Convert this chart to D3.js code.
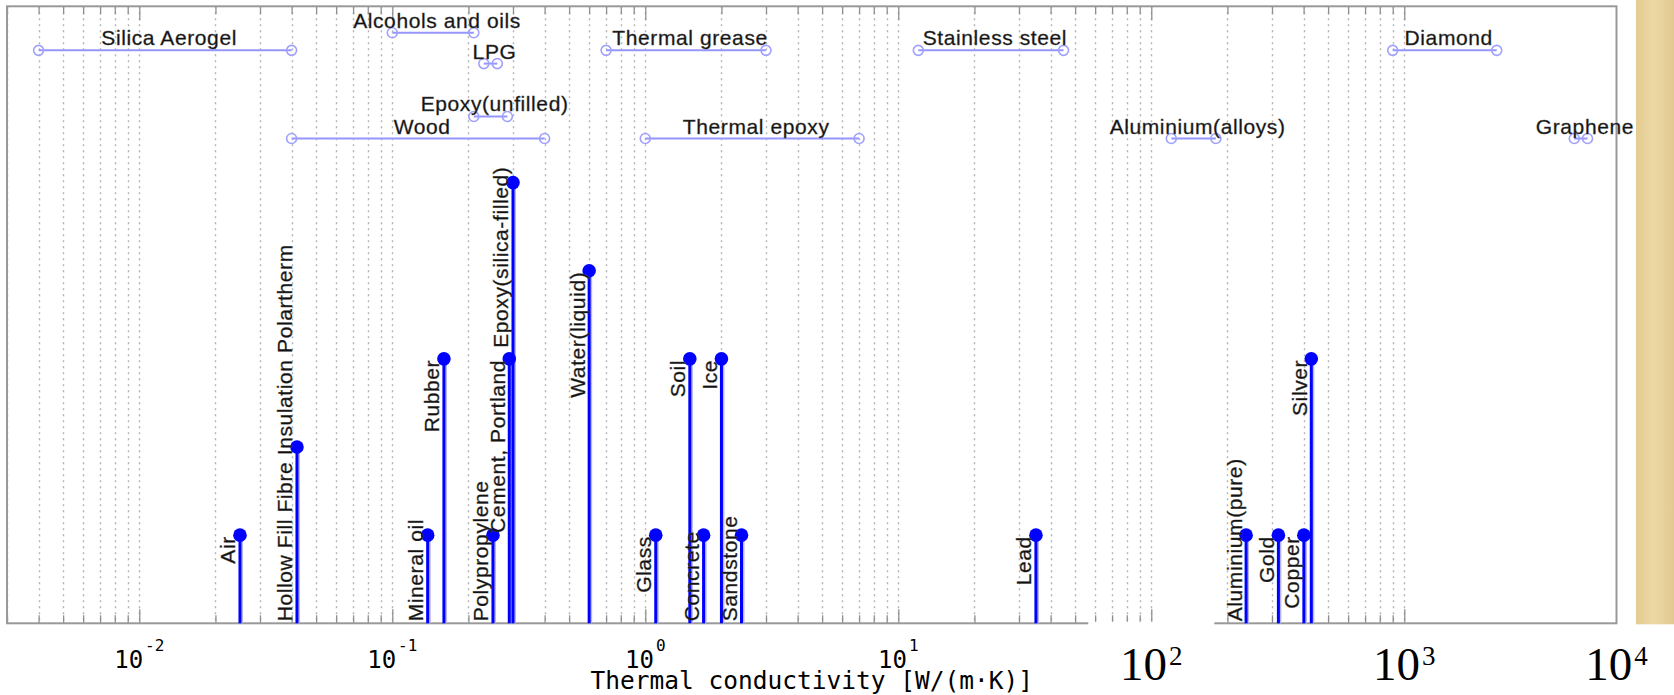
<!DOCTYPE html>
<html>
<head>
<meta charset="utf-8">
<script src="https://cdn.jsdelivr.net/npm/d3@7"></script>
<style>
    body { margin: 0; background: #fff; }
    svg { display: block; }
</style>
</head>
<body>
<svg class="svg-tc"></svg>
<script>
// materials drawn as stems (single value, W/(m.K))
var stemNames = ["Air", "Hollow Fill Fibre Insulation Polartherm", "Mineral oil", "Rubber", "Polypropylene",
    "Cement, Portland", "Epoxy(silica-filled)", "Water(liquid)", "Glass", "Soil", "Concrete", "Ice", "Sandstone",
    "Lead", "Aluminium(pure)", "Gold", "Copper", "Silver"]
var stemValues = [0.025, 0.042, 0.138, 0.16, 0.25, 0.29, 0.30, 0.6, 1.1, 1.5, 1.7, 2, 2.4, 35, 237, 318, 401, 429]
var stemLevels = [1, 2, 1, 3, 1, 3, 5, 4, 1, 3, 1, 3, 1, 1, 1, 1, 1, 3]

// materials drawn as ranges
var rangeNames = ["Silica Aerogel", "Alcohols and oils", "LPG", "Epoxy(unfilled)", "Wood", "Thermal grease",
    "Thermal epoxy", "Stainless steel", "Aluminium(alloys)", "Diamond", "Graphene"]
var rangeLow = [0.004, 0.1, 0.23, 0.21, 0.04, 0.7, 1, 12, 120, 900, 4700]
var rangeHigh = [0.04, 0.21, 0.26, 0.285, 0.4, 3, 7, 45, 180, 2320, 5300]
var rangeRows = [6.5, 6.7, 6.35, 5.75, 5.5, 6.5, 5.5, 6.5, 5.5, 6.5, 5.5]

// tick labels
var tickValues = [1e-2, 1e-1, 1, 10]
var tickExponents = ["-2", "-1", "0", "1"]
var bigTickValues = [1e2, 1e3, 1e4]
var bigTickExponents = ["2", "3", "4"]

var width = 1674
var height = 695

var svg = d3.select('.svg-tc')
    .attr('width', width)
    .attr('height', height)

var x_scale = d3.scaleLog()
    .domain([0.003, 6900])
    .range([7, 1616.5])

var y_scale = d3.scaleLinear()
    .domain([0, 7])
    .range([623.3, 6.3])

var x0 = x_scale.range()[0], x1 = x_scale.range()[1]
var yBase = y_scale(0), yTop = y_scale(7)

var labelFont = function (sel) {
    sel.style('font-family', '"Liberation Sans", Arial, sans-serif')
        .style('font-size', '21px')
        .style('letter-spacing', '0.6px')
        .style('fill', '#111')
        .style('stroke', '#444')
        .style('stroke-width', 0.35)
}

// parchment strip at the right
var defs = svg.append('defs')
var grad = defs.append('linearGradient').attr('id', 'paper')
grad.append('stop').attr('offset', '0%').attr('stop-color', '#e4cb90')
grad.append('stop').attr('offset', '45%').attr('stop-color', '#ecd8a6')
grad.append('stop').attr('offset', '100%').attr('stop-color', '#e3c98f')
svg.append('rect')
    .attr('x', 1636).attr('y', 0)
    .attr('width', width - 1636).attr('height', yBase + 1)
    .attr('fill', 'url(#paper)')

// grid (every 1..9 x 10^n up to 10^3)
var gridValues = x_scale.ticks().filter(v => v <= 1000)
var majorValues = gridValues.filter(v => Math.abs(Math.log10(v) - Math.round(Math.log10(v))) < 1e-9)
var minorValues = gridValues.filter(v => majorValues.indexOf(v) < 0)

svg.append('g')
    .selectAll('line')
    .data(gridValues)
    .enter()
    .append('line')
    .attr('x1', d => Math.round(x_scale(d)) + 0.5)
    .attr('x2', d => Math.round(x_scale(d)) + 0.5)
    .attr('y1', yTop)
    .attr('y2', yBase)
    .style('stroke', '#b3b3b3')
    .style('stroke-width', 1.4)
    .style('stroke-dasharray', '2,4')

// tick marks, bottom (pointing up) and top (pointing down)
var tickLen = { major: 14, minor: 8 }
var drawTicks = function (vals, len) {
    var gb = svg.append('g').attr('transform', 'translate(0,' + yBase + ')')
        .call(d3.axisBottom(x_scale).tickValues(vals).tickSize(-len).tickFormat(''))
    var gt = svg.append('g').attr('transform', 'translate(0,' + yTop + ')')
        .call(d3.axisTop(x_scale).tickValues(vals).tickSize(-len).tickFormat(''))
    ;[gb, gt].forEach(g => {
        g.select('.domain').remove()
        g.selectAll('line').style('stroke', '#8f8f8f').style('stroke-width', 1.3)
    })
}
drawTicks(minorValues, tickLen.minor)
drawTicks(majorValues, tickLen.major)

// axes box
svg.append('rect')
    .attr('x', x0).attr('y', yTop)
    .attr('width', x1 - x0).attr('height', yBase - yTop)
    .attr('fill', 'none')
    .style('stroke', '#999')
    .style('stroke-width', 2)

// range materials
var rg = svg.append('g')
rg.selectAll('line')
    .data(rangeNames)
    .enter()
    .append('line')
    .attr('x1', (d, i) => x_scale(rangeLow[i]))
    .attr('x2', (d, i) => x_scale(rangeHigh[i]))
    .attr('y1', (d, i) => y_scale(rangeRows[i]))
    .attr('y2', (d, i) => y_scale(rangeRows[i]))
    .style('stroke', '#9696ff')
    .style('stroke-width', 2)

var ends = []
rangeNames.forEach((d, i) => {
    ends.push([rangeLow[i], rangeRows[i]])
    ends.push([rangeHigh[i], rangeRows[i]])
})
rg.selectAll('circle')
    .data(ends)
    .enter()
    .append('circle')
    .attr('cx', d => x_scale(d[0]))
    .attr('cy', d => y_scale(d[1]))
    .attr('r', 5)
    .attr('fill', 'none')
    .style('stroke', '#a0a0ff')
    .style('stroke-width', 1.6)

rg.selectAll('text')
    .data(rangeNames)
    .enter()
    .append('text')
    .attr('x', (d, i) => (x_scale(rangeLow[i]) + x_scale(rangeHigh[i])) / 2 + 4)
    .attr('y', (d, i) => y_scale(rangeRows[i]) - 5)
    .attr('text-anchor', 'middle')
    .call(labelFont)
    .text(d => d)

// stems
var sg = svg.append('g')
sg.selectAll('line.halo')
    .data(stemValues)
    .enter()
    .append('line')
    .attr('class', 'halo')
    .attr('x1', d => x_scale(d) + 1)
    .attr('x2', d => x_scale(d) + 1)
    .attr('y1', yBase)
    .attr('y2', (d, i) => y_scale(stemLevels[i]))
    .style('stroke', '#b4b4ff')
    .style('stroke-width', 4)

sg.selectAll('line.stem')
    .data(stemValues)
    .enter()
    .append('line')
    .attr('class', 'stem')
    .attr('x1', d => x_scale(d))
    .attr('x2', d => x_scale(d))
    .attr('y1', yBase)
    .attr('y2', (d, i) => y_scale(stemLevels[i]))
    .style('stroke', '#0000ff')
    .style('stroke-width', 3)

sg.selectAll('circle')
    .data(stemValues)
    .enter()
    .append('circle')
    .attr('cx', d => x_scale(d))
    .attr('cy', (d, i) => y_scale(stemLevels[i]))
    .attr('r', 6.8)
    .attr('fill', '#0000ff')

// vertical labels: end at the stem top, but never run below the axis
var labels = sg.selectAll('text')
    .data(stemNames)
    .enter()
    .append('text')
    .attr('text-anchor', 'end')
    .call(labelFont)
    .text(d => d)

var spans = []
labels.each(function (d, i) {
    var len = this.getComputedTextLength()
    var top = Math.min(y_scale(stemLevels[i]) + 1, yBase - 2 - len)
    spans.push({ i: i, x: x_scale(stemValues[i]) - 4.5, top: top, len: len })
})
// labels sitting on (almost) the same x: push the higher one up
spans.forEach(a => {
    spans.forEach(b => {
        if (a !== b && Math.abs(a.x - b.x) < 15 && a.top < b.top && a.top + a.len > b.top - 12) {
            a.top = b.top - 12 - a.len
        }
    })
})
labels.attr('transform', (d, i) => 'translate(' + spans[i].x + ',' + spans[i].top + ') rotate(-90)')

// tick labels 10^-2 .. 10^1 (monospace)
var tl = svg.append('g')
    .selectAll('text')
    .data(tickValues)
    .enter()
    .append('text')
    .attr('x', d => x_scale(d))
    .attr('y', 668)
    .attr('text-anchor', 'middle')
    .style('font-family', '"DejaVu Sans Mono", monospace')
    .style('font-size', '24px')
    .style('fill', '#000')
tl.append('tspan').text('10')
tl.append('tspan')
    .attr('dy', -17)
    .attr('dx', 2)
    .style('font-size', '16px')
    .text((d, i) => tickExponents[i])

// tick labels 10^2 .. 10^4 (serif, pasted over the axis line)
var bigX = d => x_scale(Math.min(d, x_scale.domain()[1]))
svg.append('g')
    .selectAll('rect')
    .data(bigTickValues.slice(0, 1))
    .enter()
    .append('rect')
    .attr('x', d => bigX(d) - 63)
    .attr('y', yBase - 1.5)
    .attr('width', 126)
    .attr('height', 4)
    .attr('fill', '#fff')

var bt = svg.append('g')
    .selectAll('text')
    .data(bigTickValues)
    .enter()
    .append('text')
    .attr('x', d => bigX(d))
    .attr('y', 680)
    .attr('text-anchor', 'middle')
    .style('font-family', '"Liberation Serif", "Times New Roman", serif')
    .style('font-size', '47px')
    .style('fill', '#000')
bt.append('tspan').text('10')
bt.append('tspan')
    .attr('dy', -15)
    .attr('dx', 2)
    .style('font-size', '27px')
    .text((d, i) => bigTickExponents[i])

// axis title
svg.append('text')
    .attr('x', (x0 + x1) / 2)
    .attr('y', 689)
    .attr('text-anchor', 'middle')
    .style('font-family', '"DejaVu Sans Mono", monospace')
    .style('font-size', '24.5px')
    .style('fill', '#000')
    .text('Thermal conductivity [W/(m\u00b7K)]')
</script>
</body>
</html>
